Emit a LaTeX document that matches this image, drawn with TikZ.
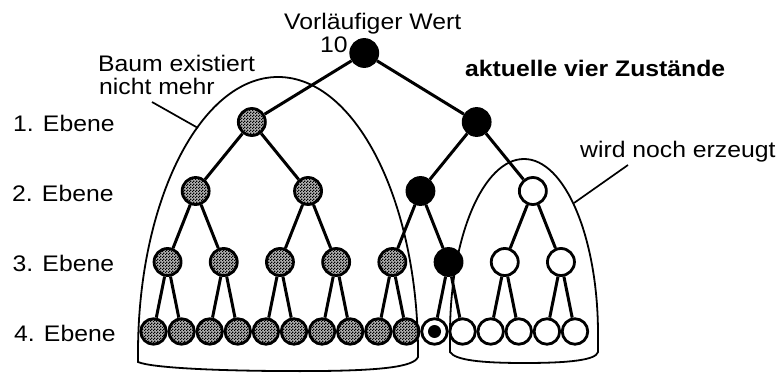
\documentclass[tikz,border=0pt]{standalone}
\usepackage{fontspec}
\setmainfont{Liberation Sans}[FakeStretch=1.1]
\usetikzlibrary{patterns}
\pgfdeclarepatternformonly{chk}{\pgfpointorigin}{\pgfqpoint{3pt}{3pt}}{\pgfqpoint{3pt}{3pt}}{%
  \pgfpathrectangle{\pgfpointorigin}{\pgfqpoint{1.5pt}{1.5pt}}%
  \pgfpathrectangle{\pgfqpoint{1.5pt}{1.5pt}}{\pgfqpoint{1.5pt}{1.5pt}}%
  \pgfusepath{fill}}
\begin{document}
\begin{tikzpicture}[x=1pt,y=1pt,
  nd/.style={circle,draw=black,line width=2.8pt,inner sep=0pt,minimum size=27pt},
  lf/.style={nd,minimum size=25.5pt},
  grey/.style={preaction={fill=black!30},pattern=chk},
  blk/.style={fill=black},
  wht/.style={fill=white},
  dotleaf/.style={fill=white,path picture={\fill[black] (path picture bounding box.center) circle (6.5pt);}},
  lnk/.style={line width=3pt},
  archln/.style={line width=1.8pt},
  leader/.style={line width=1.7pt},
  lbl/.style={anchor=base west,inner sep=0pt,font=\fontsize{22.5}{27}\selectfont}]
\fill[white] (0,0) rectangle (781,372);
\useasboundingbox (0,0) rectangle (781,372);
% nodes
\node[nd,blk] (r) at (364.25,319) {};
\foreach \i/\s in {0/grey,1/blk}
  \node[nd,\s] (l1-\i) at ({251.85+224.8*\i},250) {};
\foreach \i/\s in {0/grey,1/grey,2/blk,3/wht}
  \node[nd,\s] (l2-\i) at ({195.65+112.4*\i},181) {};
\foreach \i/\s in {0/grey,1/grey,2/grey,3/grey,4/grey,5/blk,6/wht,7/wht}
  \node[nd,\s] (l3-\i) at ({167.55+56.2*\i},110) {};
\foreach \i/\s in {0/grey,1/grey,2/grey,3/grey,4/grey,5/grey,6/grey,7/grey,8/grey,9/grey,10/dotleaf,11/wht,12/wht,13/wht,14/wht,15/wht}
  \node[lf,\s] (l4-\i) at ({153.5+28.1*\i},40.5) {};
% edges
\draw[lnk] (r) -- (l1-0);
\draw[lnk] (r) -- (l1-1);
\foreach \i in {0,...,3}{\pgfmathtruncatemacro\p{\i/2}\draw[lnk] (l1-\p) -- (l2-\i);}
\foreach \i in {0,...,7}{\pgfmathtruncatemacro\p{\i/2}\draw[lnk] (l2-\p) -- (l3-\i);}
\foreach \i in {0,...,15}{\pgfmathtruncatemacro\p{\i/2}\draw[lnk] (l3-\p) -- (l4-\i);}
% arches
\draw[archln] (138,10) -- (138,19) arc[start angle=180,end angle=0,x radius=140pt,y radius=276pt]
  -- (418,15) .. controls (414,5) and (380,0.9) .. (300,0.9) .. controls (220,0.9) and (152,4) .. (138,10) -- cycle;
\draw[archln] (450,20) -- (450,38) arc[start angle=180,end angle=0,x radius=74pt,y radius=175pt]
  -- (598,20) .. controls (596,12) and (570,9) .. (524,9) .. controls (480,9) and (455,12) .. (450,20) -- cycle;
% labels
\node[lbl] (vw) at (284,342) {Vorläufiger Wert};
\node[lbl] (ten) at (320,319) {10};
\node[lbl,font=\fontsize{22.5}{27}\selectfont\bfseries] (akt) at (465,295) {aktuelle vier Zustände};
\node[lbl] (baum1) at (98,300) {Baum existiert};
\node[lbl] (baum2) at (99,277) {nicht mehr};
\node[lbl] (e1) at (13,240) {1. Ebene};
\node[lbl] (e2) at (12,170) {2. Ebene};
\node[lbl] (e3) at (12.5,100) {3. Ebene};
\node[lbl] (e4) at (14,30.5) {4. Ebene};
\node[lbl] (wne) at (580,214) {wird noch erzeugt};
% leaders
\coordinate (b1) at (152,270);
\coordinate (b2) at (198,244);
\coordinate (w1) at (628,207);
\coordinate (w2) at (574,169);
\draw[leader] (b1) -- (b2);
\draw[leader] (w1) -- (w2);
\end{tikzpicture}
\end{document}
